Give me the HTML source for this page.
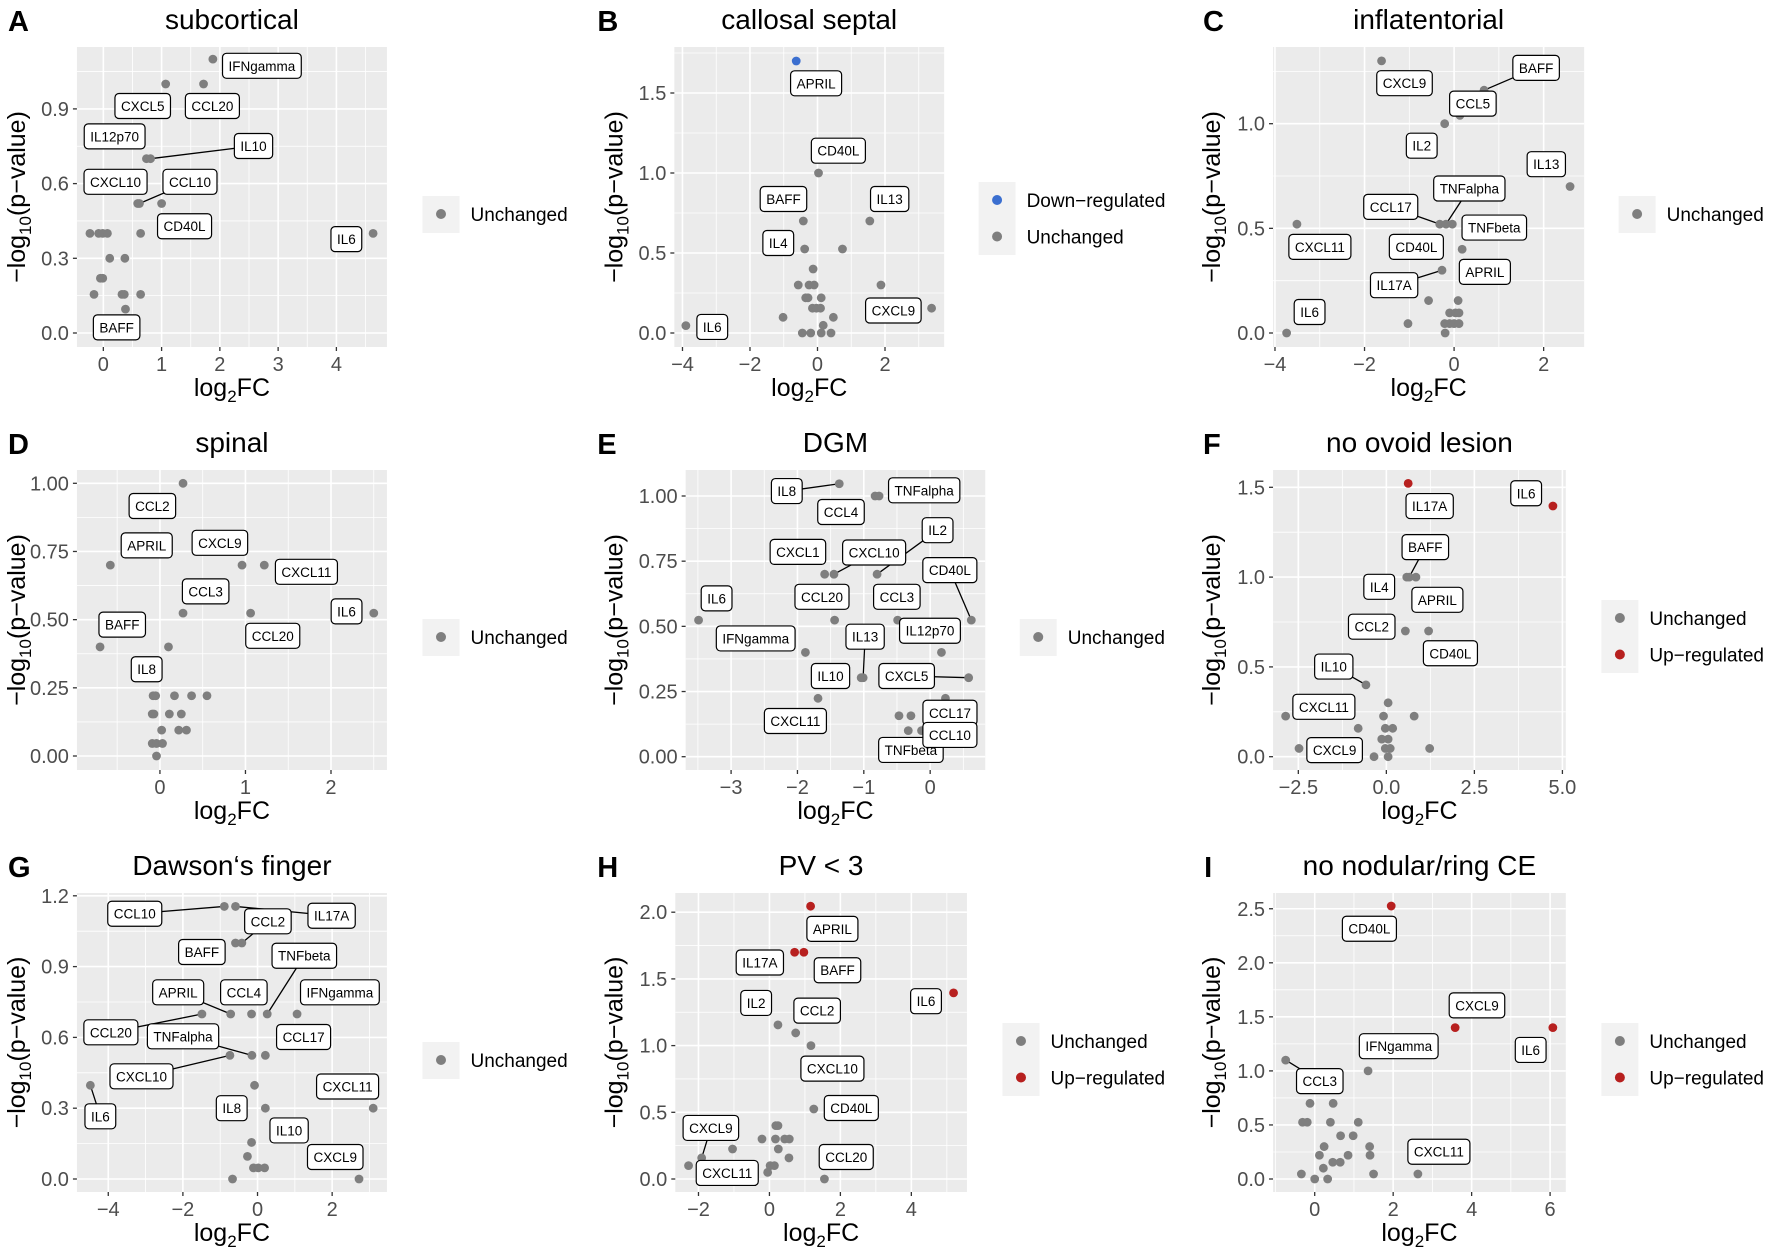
<!DOCTYPE html>
<html><head><meta charset="utf-8">
<style>
html,body{margin:0;padding:0;background:#fff;}
svg{display:block;font-family:"Liberation Sans",Arial,sans-serif;}
</style></head>
<body>
<svg id="fig" width="1772" height="1255" viewBox="0 0 1772 1255" xmlns="http://www.w3.org/2000/svg"></svg>
<script>
// ---------- DATA (log2FC, -log10 p, group, label) ----------
const A_fc = [1.88,1.07,1.72,0.74,0.81,0.59,0.62,1.0,-0.23,-0.08,-0.01,0.07,0.64,4.63,0.11,0.37,-0.05,-0.01,-0.16,0.32,0.36,0.64,0.38];
const A_p  = [1.10,1.0,1.0,0.70,0.70,0.52,0.52,0.52,0.40,0.40,0.40,0.40,0.40,0.40,0.30,0.30,0.22,0.22,0.155,0.155,0.155,0.155,0.096];
const A_lab = ['IFNgamma','CXCL5','CCL20','IL12p70','IL10','CXCL10','CCL10','CD40L','','','','','','IL6','','','','','','','','','BAFF'];

const B_fc = [-0.63,0.03,-0.42,1.55,-0.38,0.74,-0.13,-0.57,-0.25,-0.1,1.88,-0.35,-0.28,0.11,-0.15,-0.03,0.09,3.38,-1.02,0.47,0.17,-3.9,-0.45,-0.2,0.11,0.4];
const B_p  = [1.70,1.0,0.70,0.70,0.525,0.525,0.4,0.3,0.3,0.3,0.3,0.22,0.22,0.22,0.155,0.155,0.155,0.155,0.098,0.098,0.048,0.046,0,0,0,0];
const B_grp = ['D','U','U','U','U','U','U','U','U','U','U','U','U','U','U','U','U','U','U','U','U','U','U','U','U','U'];
const B_lab = ['APRIL','CD40L','BAFF','IL13','IL4','','','','','','','','','','','','','CXCL9','','','','IL6','','','',''];

const C_fc = [-1.62,0.67,0.13,-0.21,2.59,-0.32,-0.18,-0.04,0.18,-3.51,-0.27,0.09,-0.57,-0.1,0.03,0.11,-1.03,-0.21,-0.1,0,0.11,-0.2,-3.74];
const C_p  = [1.30,1.16,1.04,1.0,0.70,0.52,0.52,0.52,0.40,0.52,0.30,0.155,0.155,0.096,0.096,0.096,0.045,0.045,0.045,0.045,0.045,0,0];
const C_lab = ['CXCL9','BAFF','CCL5','IL2','IL13','CCL17','TNFalpha','CD40L','TNFbeta','CXCL11','IL17A','APRIL','','','','','','','','','','','IL6'];

const D_fc = [0.27,-0.58,0.96,1.22,0.27,1.06,2.5,-0.7,0.1,-0.08,-0.05,0.17,0.37,0.55,-0.09,-0.07,0.11,0.25,0.02,0.22,0.31,-0.09,-0.04,0.03,-0.04];
const D_p  = [1.0,0.70,0.70,0.70,0.524,0.524,0.524,0.40,0.40,0.221,0.221,0.221,0.221,0.221,0.154,0.154,0.154,0.154,0.095,0.095,0.095,0.046,0.046,0.046,0];
const D_lab = ['CCL2','APRIL','CXCL9','CXCL11','CCL3','CCL20','IL6','BAFF','IL8','','','','','','','','','','','','','','','',''];

const E_fc = [-1.37,-0.83,-0.77,-1.59,-1.45,-0.8,0.62,-3.49,-1.44,-0.49,0.17,-1.88,-1.01,-1.04,0.58,-1.69,0.23,-0.29,-0.47,-0.33,-0.13];
const E_p  = [1.047,1.0,1.0,0.70,0.70,0.70,0.524,0.524,0.524,0.524,0.40,0.40,0.303,0.303,0.303,0.224,0.224,0.157,0.157,0.10,0.10];
const E_lab = ['IL8','CCL4','TNFalpha','CXCL1','CXCL10','IL2','CD40L','IL6','CCL20','CCL3','IL12p70','IFNgamma','IL13','IL10','CXCL5','CXCL11','','CCL17','','TNFbeta','CCL10'];

const F_fc = [0.62,4.73,0.65,0.84,0.58,0.54,1.2,-0.58,0.05,-2.86,-0.08,0.79,-0.8,-0.03,0.18,-0.13,0.05,-2.48,-0.03,0.11,1.23,-0.35,0.05];
const F_p  = [1.522,1.396,1.0,1.0,1.0,0.70,0.70,0.40,0.30,0.226,0.226,0.226,0.158,0.158,0.158,0.098,0.098,0.046,0.046,0.046,0.046,0,0];
const F_grp = ['R','R','U','U','U','U','U','U','U','U','U','U','U','U','U','U','U','U','U','U','U','U','U'];
const F_lab = ['IL17A','IL6','BAFF','APRIL','IL4','CCL2','CD40L','IL10','','CXCL11','','','','','','','','CXCL9','','','','',''];

const G_fc = [-0.89,-0.59,-0.59,-0.42,-0.72,-1.49,-0.16,0.26,1.06,-0.15,-0.74,0.21,-0.08,-4.48,0.21,3.1,-0.16,-0.27,-0.11,0.02,0.19,2.72,-0.67];
const G_p  = [1.155,1.155,1.0,1.0,0.699,0.699,0.699,0.699,0.699,0.524,0.524,0.524,0.397,0.397,0.30,0.30,0.155,0.096,0.047,0.047,0.047,0,0];
const G_lab = ['CCL10','IL17A','BAFF','CCL2','APRIL','CCL20','CCL4','TNFbeta','IFNgamma','TNFalpha','CXCL10','CCL17','','IL6','IL8','CXCL11','IL10','','','','','CXCL9',''];

const H_fc = [1.16,0.71,0.97,5.19,0.24,0.74,1.17,1.25,0.18,0.24,-0.21,0.17,0.43,0.56,-1.04,0.25,-1.91,0.55,-2.28,0.02,0.14,-0.05,1.55];
const H_p  = [2.045,1.70,1.70,1.395,1.155,1.095,1.0,0.525,0.40,0.40,0.30,0.30,0.30,0.30,0.225,0.225,0.158,0.158,0.10,0.10,0.10,0.05,0];
const H_grp = ['R','R','R','R','U','U','U','U','U','U','U','U','U','U','U','U','U','U','U','U','U','U','U'];
const H_lab = ['APRIL','IL17A','BAFF','IL6','IL2','CCL2','CXCL10','CD40L','','','','','','','','','CXCL9','','CXCL11','','','','CCL20'];

const I_fc = [1.95,3.58,6.07,-0.74,1.36,-0.12,0.47,-0.31,-0.19,0.4,1.11,0.66,0.98,0.24,1.4,0.12,0.85,1.41,0.46,0.65,0.22,-0.34,1.5,2.63,0,0.33];
const I_p  = [2.525,1.40,1.40,1.10,1.0,0.70,0.70,0.525,0.525,0.525,0.525,0.40,0.40,0.30,0.30,0.22,0.22,0.22,0.155,0.155,0.10,0.046,0.046,0.046,0,0];
const I_grp = ['R','R','R','U','U','U','U','U','U','U','U','U','U','U','U','U','U','U','U','U','U','U','U','U','U','U'];
const I_lab = ['CD40L','CXCL9','IL6','CCL3','IFNgamma','','','','','','','','','','','','','','','','','','','CXCL11','',''];

// tick values
const A_xt=[0,1,2,3,4], A_yt=[0,0.3,0.6,0.9];
const B_xt=[-4,-2,0,2], B_yt=[0,0.5,1,1.5];
const C_xt=[-4,-2,0,2], C_yt=[0,0.5,1];
const D_xt=[0,1,2], D_yt=[0,0.25,0.5,0.75,1];
const E_xt=[-3,-2,-1,0], E_yt=[0,0.25,0.5,0.75,1];
const F_xt=[-2.5,0,2.5,5], F_yt=[0,0.5,1,1.5];
const G_xt=[-4,-2,0,2], G_yt=[0,0.3,0.6,0.9,1.2];
const H_xt=[-2,0,2,4], H_yt=[0,0.5,1,1.5,2];
const I_xt=[0,2,4,6], I_yt=[0,0.5,1,1.5,2,2.5];

// ---------- LAYOUT (label box offsets relative to point, px; third item = connector line) ----------
const A_lpos={IFNgamma:[42.7,6.7],CXCL5:[-20,22],CCL20:[7.7,22],IL12p70:[-27.7,-22.3],IL10:[89.7,-12.7,1],CXCL10:[-19.3,-21.7],CCL10:[44,-21.7,1],CD40L:[20,22.7],IL6:[-23.3,5.7],BAFF:[-7.7,18.3]};
const B_lpos={APRIL:[17.3,22.3],CD40L:[17.3,-22.3],BAFF:[-17.3,-22],IL13:[17.3,-22],IL4:[-23,-6],CXCL9:[-33.3,2.3],IL6:[23,1.3]};
const C_lpos={CXCL9:[20,22.3],BAFF:[45.3,-22.3,1],CCL5:[11.3,-11.7],IL2:[-20,22],IL13:[-20.7,-22.3],CCL17:[-42.7,-17.3,1],TNFalpha:[20.3,-35.7,1],CD40L:[-31.3,22.7],TNFbeta:[28,-21.7],CXCL11:[20,22.7],IL17A:[-41.7,15,1],APRIL:[23.3,-28.7],IL6:[20,-21]};
const D_lpos={CCL2:[-26.7,22.7],APRIL:[31.7,-19.7],CXCL9:[-19.3,-22.3],CXCL11:[36.7,6.7],CCL3:[19.7,-21.7],CCL20:[19.3,22.7],IL6:[-23.7,-1.7],BAFF:[19.3,-22.3],IL8:[-19,22.3]};
const E_lpos={IL8:[-45.7,7.3,1],CCL4:[-29.7,16],TNFalpha:[39.3,-5.7],CXCL1:[-23.3,-22.3],CXCL10:[35,-21.7,1],IL2:[52.7,-44,1],CD40L:[-18.7,-50,1],IL6:[15.7,-21.7],CCL20:[-11,-23.3],CCL3:[-0.7,-23.3],IL12p70:[-10,-21.7],IFNgamma:[-43.3,-14],IL13:[1.7,-41,1],IL10:[-26.7,-1.7],CXCL5:[-54,-1.7,1],CXCL11:[-19.7,22.7],CCL17:[34,-3],TNFbeta:[2.3,19.3],CCL10:[24.7,4.3]};
const F_lpos={IL17A:[18.7,22.7],IL6:[-23.3,-12.7],BAFF:[14,-30,1],APRIL:[18.7,22.7],IL4:[-24,9.7],CCL2:[-29.3,-4.3],CD40L:[19,22.3],IL10:[-28,-18.3,1],CXCL11:[33.3,-9.3],CXCL9:[31,1.7]};
const G_lpos={CCL10:[-78,7.3,1],IL17A:[83.7,9.3,1],BAFF:[-29.3,9],CCL2:[22.7,-21.7,1],APRIL:[-45.7,-21.7,1],CCL20:[-79.3,18.3,1],CCL4:[-6.7,-21.7],TNFbeta:[32.3,-58.3,1],IFNgamma:[37.3,-21.7],TNFalpha:[-60,-19,1],CXCL10:[-77,21,1],CCL17:[33.3,-18.3],IL6:[8.7,31,1],IL8:[-29.3,0],CXCL11:[-22.3,-21.7],IL10:[32.7,-12],CXCL9:[-20.7,-22]};
const H_lpos={APRIL:[19,22.7],IL17A:[-30.3,10.3],BAFF:[29.3,18],IL6:[-24,8.3],IL2:[-19,-22],CCL2:[18.7,-22.3],CXCL10:[18.7,23],CD40L:[32.7,-1],CXCL9:[8,-30,1],CXCL11:[33.7,7.3],CCL20:[19,-22]};
const I_lpos={CD40L:[-19,22.7],CXCL9:[19,-22.3],IL6:[-19.3,22.3],CCL3:[29.7,21,1],IFNgamma:[26.7,-24.7],CXCL11:[18.3,-22.3]};

const COLORS={U:'#7f7f7f',D:'#3b6fd0',R:'#b7201f'};
const LEGTXT={U:'Unchanged',D:'Down\u2212regulated',R:'Up\u2212regulated'};
const S=3/2.613; // horizontal correction factor

const panels=[
 {k:'A',ox:0,title:'subcortical',lx:7,ty:0,rect:[67,47,337,347],x0:90,kx:50.75,y0:333,ky:-249,xd:0,yd:1,ytx:15,leg:[368,196,['U']],fc:A_fc,p:A_p,grp:null,lab:A_lab,lpos:A_lpos,xt:A_xt,yt:A_yt},
 {k:'B',ox:540,title:'callosal septal',lx:590,ty:0,rect:[657,47,892,347],x0:781.7,kx:29.4,y0:333,ky:-160,xd:0,yd:1,ytx:605,leg:[922,182,['D','U']],fc:B_fc,p:B_p,grp:B_grp,lab:B_lab,lpos:B_lpos,xt:B_xt,yt:B_yt},
 {k:'C',ox:1172,title:'inflatentorial',lx:1199,ty:0,rect:[1260,47,1531,347],x0:1417.7,kx:39,y0:333,ky:-209.3,xd:0,yd:1,ytx:1207,leg:[1561,196,['U']],fc:C_fc,p:C_p,grp:null,lab:C_lab,lpos:C_lpos,xt:C_xt,yt:C_yt},
 {k:'D',ox:0,title:'spinal',lx:7,ty:423,rect:[67,470,337,770],x0:139.3,kx:74.5,y0:756,ky:-272.7,xd:0,yd:2,ytx:15,leg:[368,619,['U']],fc:D_fc,p:D_p,grp:null,lab:D_lab,lpos:D_lpos,xt:D_xt,yt:D_yt},
 {k:'E',ox:580,title:'DGM',lx:595,ty:423,rect:[672,470,933,770],x0:885,kx:57.8,y0:756.7,ky:-260.7,xd:0,yd:2,ytx:610,leg:[963,619,['U']],fc:E_fc,p:E_p,grp:null,lab:E_lab,lpos:E_lpos,xt:E_xt,yt:E_yt},
 {k:'F',ox:1172,title:'no ovoid lesion',lx:1199,ty:423,rect:[1260,470,1515,770],x0:1358.7,kx:30.67,y0:756.7,ky:-179.6,xd:1,yd:1,ytx:1207,leg:[1546,600,['U','R']],fc:F_fc,p:F_p,grp:F_grp,lab:F_lab,lpos:F_lpos,xt:F_xt,yt:F_yt},
 {k:'G',ox:0,title:'Dawson\u2018s finger',lx:7,ty:846,rect:[67,893,337,1192],x0:224.3,kx:32.5,y0:1179,ky:-236,xd:0,yd:1,ytx:15,leg:[368,1042,['U']],fc:G_fc,p:G_p,grp:null,lab:G_lab,lpos:G_lpos,xt:G_xt,yt:G_yt},
 {k:'H',ox:580,title:'PV < 3',lx:595,ty:846,rect:[663,893,917,1192],x0:745,kx:30.9,y0:1179,ky:-133.4,xd:0,yd:1,ytx:610,leg:[948,1023,['U','R']],fc:H_fc,p:H_p,grp:H_grp,lab:H_lab,lpos:H_lpos,xt:H_xt,yt:H_yt},
 {k:'I',ox:1172,title:'no nodular/ring CE',lx:1200,ty:846,rect:[1260,893,1515,1192],x0:1296.3,kx:34.17,y0:1179,ky:-108.1,xd:0,yd:1,ytx:1207,leg:[1546,1023,['U','R']],fc:I_fc,p:I_p,grp:I_grp,lab:I_lab,lpos:I_lpos,xt:I_xt,yt:I_yt}
];
panels.forEach(P=>{
  const fx=x=>P.ox+(x-P.ox)*S;
  P.rect=[fx(P.rect[0]),P.rect[1],fx(P.rect[2]),P.rect[3]];
  P.x0=fx(P.x0); P.kx=P.kx*S; P.lx=fx(P.lx); P.ytx=fx(P.ytx);
  P.leg=[fx(P.leg[0]),P.leg[1],P.leg[2]];
  P.ls=S;
});

const NS='http://www.w3.org/2000/svg';
const svg=document.getElementById('fig');
function mk(tag,attrs,parent){const e=document.createElementNS(NS,tag);for(const a in attrs)e.setAttribute(a,attrs[a]);parent.appendChild(e);return e;}
function fmt(v,d){const s=Math.abs(v).toFixed(d);return v<0?'\u2212'+s:s;}

panels.forEach(P=>{
  const [x1,y1,x2,y2]=P.rect;
  const sx=v=>P.x0+v*P.kx, sy=v=>P.y0+v*P.ky;
  const g=mk('g',{},svg);
  
  

  const letter=mk('text',{x:P.lx,y:P.ty+31,'font-size':29,'font-weight':'bold',fill:'#000'},g);
  letter.textContent=P.k;
  
  
  const title=mk('text',{x:(x1+x2)/2,y:y1-18,'font-size':28,'text-anchor':'middle',fill:'#000'},g);
  title.textContent=P.title;
  
  

  const bg=mk('rect',{x:x1,y:y1,width:x2-x1,height:y2-y1,fill:'#ebebeb'},g);
  
  

  const grid=mk('g',{},g);
  
  
  const xs=P.xt, ys=P.yt;
  const dx=xs[1]-xs[0], dy=ys[1]-ys[0];
  for(let v=xs[0]-dx/2; v<=xs[xs.length-1]+dx; v+=dx){const px=sx(v); if(px>x1&&px<x2) mk('line',{x1:px,x2:px,y1:y1,y2:y2,stroke:'#fff','stroke-width':0.8},grid);}
  for(let v=ys[0]-dy/2; v<=ys[ys.length-1]+dy; v+=dy){const py=sy(v); if(py>y1&&py<y2) mk('line',{x1:x1,x2:x2,y1:py,y2:py,stroke:'#fff','stroke-width':0.8},grid);}
  xs.forEach(v=>{const px=sx(v);mk('line',{x1:px,x2:px,y1:y1,y2:y2,stroke:'#fff','stroke-width':1.6},grid);
    mk('line',{x1:px,x2:px,y1:y2,y2:y2+4,stroke:'#333','stroke-width':1.3},g);
    const t=mk('text',{x:px,y:y2+24,'font-size':20,'text-anchor':'middle',fill:'#4d4d4d'},g);
    t.textContent=fmt(v,P.xd);
    
    });
  ys.forEach(v=>{const py=sy(v);mk('line',{x1:x1,x2:x2,y1:py,y2:py,stroke:'#fff','stroke-width':1.6},grid);
    mk('line',{x1:x1-4,x2:x1,y1:py,y2:py,stroke:'#333','stroke-width':1.3},g);
    const t=mk('text',{x:x1-8,y:py+7,'font-size':20,'text-anchor':'end',fill:'#4d4d4d'},g);
    t.textContent=fmt(v,P.yd);
    
    });

  const xt=mk('text',{x:(x1+x2)/2,y:y2+49,'font-size':25,'text-anchor':'middle',fill:'#000'},g);
  xt.innerHTML='log<tspan font-size="17" dy="6">2</tspan><tspan dy="-6">FC</tspan>';
  
  
  const cy=(y1+y2)/2;
  const yt=mk('text',{x:0,y:0,'font-size':25,'text-anchor':'middle',fill:'#000',transform:`translate(${P.ytx+8},${cy}) rotate(-90)`},g);
  yt.innerHTML='\u2212log<tspan font-size="17" dy="6">10</tspan><tspan dy="-6">(p\u2212value)</tspan>';
  
  

  const lines=mk('g',{},g);
  
  
  const pts=mk('g',{},g);
  
  
  const labs=mk('g',{},g);
  
  
  P.fc.forEach((v,i)=>{
    const px=sx(v), py=sy(P.p[i]);
    const grp=P.grp?P.grp[i]:'U';
    const c=mk('circle',{cx:px,cy:py,r:4.4,fill:COLORS[grp]},pts);
    
    
    const name=P.lab[i];
    if(name && P.lpos[name]){
      const o=P.lpos[name];
      const bx=px+o[0]*P.ls, by=py+o[1];
      if(o[2]){const l=mk('line',{x1:px,y1:py,x2:bx,y2:by,stroke:'#000','stroke-width':1.3},lines);
        
        }
      const lg=mk('g',{},labs);
      
      
      const r=mk('rect',{x:0,y:by-12.5,width:10,height:25,rx:4,fill:'#fff',stroke:'#000','stroke-width':1.2},lg);
      const t=mk('text',{x:bx,y:by+5,'font-size':13.5,'text-anchor':'middle',fill:'#000'},lg);
      t.textContent=name;
      let w=name.length*8; try{w=t.getComputedTextLength();}catch(e){}
      r.setAttribute('x',bx-w/2-6); r.setAttribute('width',w+12);
    }
  });

  const [lx,ly,rows]=P.leg;
  const lgd=mk('g',{},g);
  
  
  mk('rect',{x:lx,y:ly,width:37,height:rows.length*36+1,fill:'#f2f2f2'},lgd);
  rows.forEach((r,j)=>{
    const cyy=ly+18+j*36.5;
    const e=mk('g',{},lgd);
    
    
    mk('circle',{cx:lx+18.5,cy:cyy,r:5,fill:COLORS[r]},e);
    const t=mk('text',{x:lx+48,y:cyy+7,'font-size':19,fill:'#000'},e);
    t.textContent=LEGTXT[r];
  });
});
</script>
</body></html>
